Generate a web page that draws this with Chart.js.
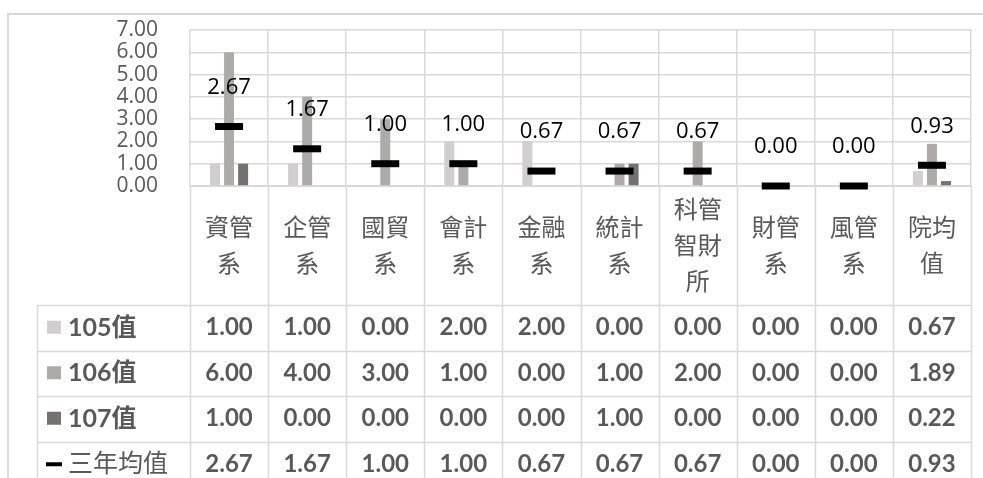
<!DOCTYPE html>
<html>
<head>
<meta charset="utf-8">
<script src="https://cdn.jsdelivr.net/npm/chart.js@4/dist/chart.umd.min.js"></script>
<style>
  body { margin: 0; background: #fff; }
  canvas { display: block; }
</style>
</head>
<body>
<canvas id="deptChart" width="983" height="478"></canvas>
<script>
const categories = [['資管', '系'], ['企管', '系'], ['國貿', '系'], ['會計', '系'], ['金融', '系'],
    ['統計', '系'], ['科管', '智財', '所'], ['財管', '系'], ['風管', '系'], ['院均', '值']];
const seriesNames = ['105值', '106值', '107值', '三年均值'];
const v105 = [1.00, 1.00, 0.00, 2.00, 2.00, 0.00, 0.00, 0.00, 0.00, 0.67];
const v106 = [6.00, 4.00, 3.00, 1.00, 0.00, 1.00, 2.00, 0.00, 0.00, 1.89];
const v107 = [1.00, 0.00, 0.00, 0.00, 0.00, 1.00, 0.00, 0.00, 0.00, 0.22];
const avg3 = [2.67, 1.67, 1.00, 1.00, 0.67, 0.67, 0.67, 0.00, 0.00, 0.93];
const barColors = ['#d0cece', '#aeaaaa', '#767171'];
const gridColor = '#d9d9d9';
const textGray = '#595959';

// draws the outer frame, the value labels and the data table under the axis
const tablePlugin = {
    id: 'tablePlugin',
    afterDraw(chart) {
        const ctx = chart.ctx;
        const area = chart.chartArea;
        const x = chart.scales.x;
        const n = categories.length;
        const step = (x.right - x.left) / n;
        const H = chart.height;

        ctx.save();
        // outer frame
        ctx.strokeStyle = gridColor;
        ctx.lineWidth = 2;
        ctx.beginPath();
        ctx.moveTo(8, H);
        ctx.lineTo(8, 14);
        ctx.lineTo(chart.width, 14);
        ctx.stroke();

        // labels above the average markers
        const meta = chart.getDatasetMeta(3);
        ctx.fillStyle = '#000';
        ctx.font = '22px "Open Sans"';
        ctx.textAlign = 'center';
        ctx.textBaseline = 'middle';
        meta.data.forEach((pt, i) => {
            ctx.fillText(avg3[i].toFixed(2), pt.x, pt.y - 39);
        });

        // table grid
        const tableTop = area.bottom + 119;
        const rowH = 45.5;
        const tableLeft = 37;
        ctx.strokeStyle = gridColor;
        ctx.lineWidth = 1.5;
        ctx.beginPath();
        for (let i = 0; i <= n; i++) {
            const bx = Math.round(x.left + i * step) + 0.5;
            ctx.moveTo(bx, area.bottom);
            ctx.lineTo(bx, H);
        }
        for (let r = 0; r < 4; r++) {
            const ry = Math.round(tableTop + r * rowH) + 0.5;
            ctx.moveTo(tableLeft, ry);
            ctx.lineTo(x.right, ry);
        }
        ctx.moveTo(tableLeft + 0.5, tableTop);
        ctx.lineTo(tableLeft + 0.5, H);
        ctx.stroke();

        // row keys and values
        const rows = [v105, v106, v107, avg3];
        rows.forEach((vals, r) => {
            const cy = tableTop + r * rowH + rowH / 2;
            if (r < 3) {
                ctx.fillStyle = barColors[r];
                ctx.fillRect(47, cy - 7, 14, 13);
            } else {
                ctx.fillStyle = '#000';
                ctx.fillRect(46, cy - 2, 16, 4);
            }
            ctx.fillStyle = textGray;
            ctx.textAlign = 'left';
            ctx.font = 'bold 25px Lato, "Noto Sans CJK TC"';
            if (r === 3) ctx.font = '25px Lato, "Noto Sans CJK TC"';
            ctx.fillText(seriesNames[r], 68, cy);
            ctx.font = 'bold 24px Lato';
            ctx.textAlign = 'center';
            vals.forEach((v, i) => {
                ctx.fillText(v.toFixed(2), x.getPixelForValue(i), cy);
            });
        });
        ctx.restore();
    }
};

const ctxDept = document.getElementById('deptChart').getContext('2d');
const deptChart = new Chart(ctxDept, {
    type: 'bar',
    data: {
        labels: categories,
        datasets: [
            { label: seriesNames[0], data: v105, backgroundColor: barColors[0], order: 1 },
            { label: seriesNames[1], data: v106, backgroundColor: barColors[1], order: 1 },
            { label: seriesNames[2], data: v107, backgroundColor: barColors[2], order: 1 },
            {
                type: 'line',
                label: seriesNames[3],
                data: avg3,
                showLine: false,
                clip: false,
                pointStyle: 'line',
                pointRadius: 14,
                pointHoverRadius: 14,
                pointBorderWidth: 7,
                borderColor: '#000',
                backgroundColor: '#000',
                order: 0
            }
        ]
    },
    options: {
        responsive: false,
        animation: false,
        categoryPercentage: 0.54,
        barPercentage: 0.71,
        layout: { autoPadding: false, padding: { top: 30, right: 12, left: 0, bottom: 0 } },
        plugins: {
            legend: { display: false },
            tooltip: { enabled: false }
        },
        scales: {
            x: {
                grid: { color: gridColor, lineWidth: 1.5, drawTicks: false },
                border: { color: gridColor },
                ticks: {
                    color: textGray,
                    font: { family: '"Noto Sans CJK TC"', size: 24, lineHeight: 1.5 },
                    padding: 23,
                    crossAlign: 'center',
                    maxRotation: 0,
                    autoSkip: false
                },
                afterFit: function(scale) {
                    scale.height = 292;
                    scale.paddingLeft = 0;
                    scale.paddingRight = 0;
                }
            },
            y: {
                min: 0,
                max: 7,
                grid: { color: gridColor, lineWidth: 1.5, drawTicks: false },
                border: { display: false },
                ticks: {
                    stepSize: 1,
                    autoSkip: false,
                    color: textGray,
                    padding: 32,
                    font: { family: '"Open Sans"', size: 21, lineHeight: 1 },
                    callback: function(value) { return value.toFixed(2); }
                },
                afterFit: function(scale) {
                    scale.width = 190;
                    scale.paddingTop = 0;
                    scale.paddingBottom = 0;
                }
            }
        }
    },
    plugins: [tablePlugin]
});
</script>
</body>
</html>
